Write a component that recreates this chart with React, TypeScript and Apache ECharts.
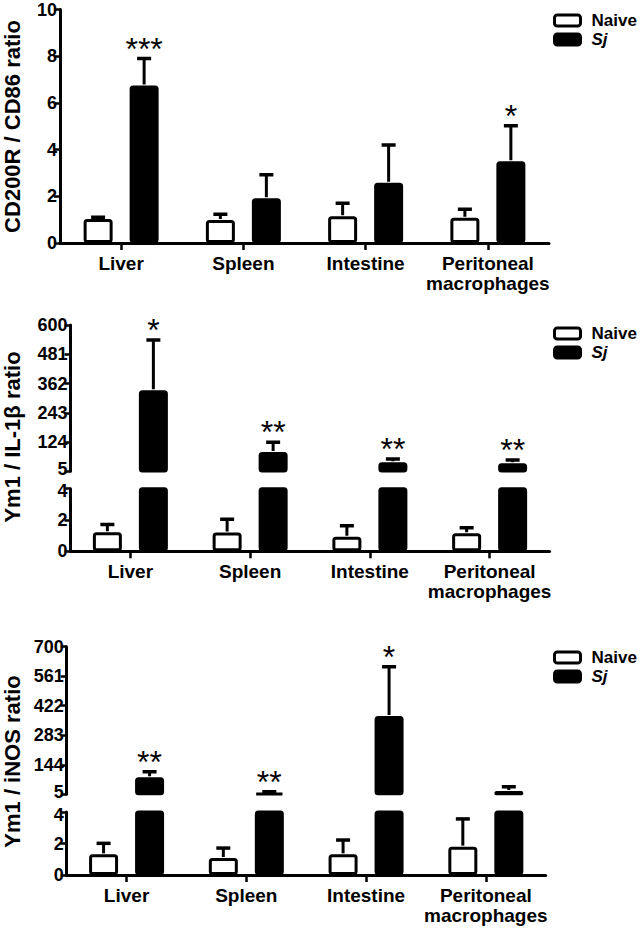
import React, { useEffect, useRef } from "react";
import * as echarts from "echarts";

const FONT = 'Arial, "Liberation Sans", sans-serif';

const categories = ["Liver", "Spleen", "Intestine", "Peritoneal\nmacrophages"];
const seriesNames = ["Naive", "Sj"];

// Panel 1: CD200R / CD86 ratio
const p1Naive = [1.03, 0.98, 1.15, 1.08];
const p1NaiveErr = [0.07, 0.25, 0.55, 0.37];
const p1Sj = [6.75, 1.92, 2.58, 3.5];
const p1SjErr = [1.15, 1.0, 1.62, 1.52];
const p1Stars = ["***", "", "", "*"];
const p1Ticks = { min: 0, max: 10, interval: 2 };

// Panel 2: Ym1 / IL-1β ratio (broken axis)
const p2Naive = [1.21, 1.2, 0.93, 1.15];
const p2NaiveErr = [0.51, 0.84, 0.71, 0.36];
const p2Sj = [335, 83.5, 41.6, 37.5];
const p2SjErr = [204, 39.5, 13.4, 13.5];
const p2Stars = ["*", "**", "**", "**"];
const p2Upper = { min: 5, max: 600, interval: 119 };
const p2Lower = { min: 0, max: 4, interval: 2 };

// Panel 3: Ym1 / iNOS ratio (broken axis)
const p3Naive = [1.31, 1.08, 1.31, 1.8];
const p3NaiveErr = [0.7, 0.63, 0.91, 1.76];
const p3Sj = [85, 12.5, 373.6, 20.5];
const p3SjErr = [26.4, 4.5, 232, 20.3];
const p3Stars = ["**", "**", "*", ""];
const p3Upper = { min: 5, max: 700, interval: 139 };
const p3Lower = { min: 0, max: 4, interval: 2 };

const yTitles = ["CD200R / CD86 ratio", "Ym1 / IL-1\u03b2 ratio", "Ym1 / iNOS ratio"];

// style constants
const BAR_W = 29;
const BAR_GAP = 17;
const OFFSET = (BAR_W + BAR_GAP) / 2;
const STAR_DY = 6;
const TICK_FONT = 18;

const naiveStyle = { color: "#fff", borderColor: "#000", borderWidth: 3, borderRadius: 2 };
const sjStyle = { color: "#000", borderColor: "#000", borderWidth: 3, borderRadius: 2 };

function errRender(params: any, api: any) {
  const cat = api.value(0);
  const v = api.value(1);
  const e = api.value(2);
  const side = api.value(3);
  const base = api.coord([cat, v]);
  const top = api.coord([cat, v + e]);
  const x = base[0] + side * OFFSET;
  return {
    type: "group",
    children: [
      { type: "line", shape: { x1: x, y1: base[1] - 1, x2: x, y2: top[1] }, style: { stroke: "#000", lineWidth: 3 } },
      { type: "line", shape: { x1: x - 7, y1: top[1], x2: x + 7, y2: top[1] }, style: { stroke: "#000", lineWidth: 3.5 } },
    ],
  };
}

function starRender(stars: string[]) {
  return (params: any, api: any) => {
    const cat = api.value(0);
    const p = api.coord([cat, api.value(1)]);
    return {
      type: "text",
      x: p[0] + OFFSET,
      y: p[1] + STAR_DY,
      style: {
        text: stars[cat],
        fontSize: 32,
        fontFamily: FONT,
        fill: "#000",
        align: "center",
        verticalAlign: "bottom",
      },
    };
  };
}

function errData(naive: number[], naiveErr: number[], sj: number[], sjErr: number[], keep: (v: number, e: number) => boolean) {
  const out: number[][] = [];
  naive.forEach((v, i) => {
    if (keep(v, naiveErr[i])) out.push([i, v, naiveErr[i], -1]);
  });
  sj.forEach((v, i) => {
    if (keep(v, sjErr[i])) out.push([i, v, sjErr[i], 1]);
  });
  return out;
}

function starData(sj: number[], sjErr: number[], stars: string[]) {
  const out: number[][] = [];
  stars.forEach((s, i) => {
    if (s) out.push([i, sj[i] + sjErr[i]]);
  });
  return out;
}

function bars(g: number, naive: any[], sj: any[]) {
  return [
    {
      type: "bar", name: seriesNames[0], xAxisIndex: g, yAxisIndex: g, data: naive,
      barWidth: BAR_W, barGap: `${(BAR_GAP / BAR_W) * 100}%`, clip: true,
      itemStyle: naiveStyle, emphasis: { disabled: true }, silent: true,
    },
    {
      type: "bar", name: seriesNames[1], xAxisIndex: g, yAxisIndex: g, data: sj,
      barWidth: BAR_W, barGap: `${(BAR_GAP / BAR_W) * 100}%`, clip: true,
      itemStyle: sjStyle, emphasis: { disabled: true }, silent: true,
    },
  ];
}

function errSeries(g: number, data: number[][]) {
  return {
    type: "custom", xAxisIndex: g, yAxisIndex: g, data, renderItem: errRender,
    encode: { x: 0, y: 1 }, silent: true, clip: true, z: 3,
  };
}

function starSeries(g: number, data: number[][], stars: string[]) {
  return {
    type: "custom", xAxisIndex: g, yAxisIndex: g, data, renderItem: starRender(stars),
    encode: { x: 0, y: 1 }, silent: true, z: 4,
  };
}

const grids = [
  { left: 60, top: 9.5, width: 489, height: 233.5 },
  { left: 70.5, top: 325, width: 479, height: 146.3 },
  { left: 70.5, top: 488.7, width: 479, height: 62.6 },
  { left: 66.7, top: 646.7, width: 479, height: 147.6 },
  { left: 66.7, top: 812, width: 479, height: 63 },
];

function xAxisVisible(g: number) {
  return {
    type: "category", gridIndex: g, data: categories,
    axisLine: { show: true, lineStyle: { color: "#000", width: 3 } },
    axisTick: { show: true, alignWithLabel: true, length: 7, lineStyle: { color: "#000", width: 2.5 } },
    axisLabel: {
      color: "#000", fontSize: 19, fontWeight: "bold", fontFamily: FONT,
      margin: 10, lineHeight: 20, interval: 0,
    },
    splitLine: { show: false },
  };
}

function xAxisHidden(g: number) {
  return { type: "category", gridIndex: g, data: categories, show: false };
}

// breakEdge: 'min' nudges the lowest label of an upper segment up a little,
// 'max' nudges the highest label of a lower segment down, so the two break labels do not collide.
function yAxis(g: number, t: { min: number; max: number; interval: number }, breakEdge?: "min" | "max") {
  const edgeValue = breakEdge === "min" ? t.min : breakEdge === "max" ? t.max : null;
  const richBase = { color: "#000", fontSize: TICK_FONT, fontWeight: "bold", fontFamily: FONT };
  return {
    type: "value", gridIndex: g, min: t.min, max: t.max, interval: t.interval,
    axisLine: { show: true, lineStyle: { color: "#000", width: 3 } },
    axisTick: { show: true, length: 6, lineStyle: { color: "#000", width: 2.5 } },
    axisLabel: {
      color: "#000", fontSize: TICK_FONT, fontWeight: "bold", fontFamily: FONT, margin: 3,
      showMinLabel: true, showMaxLabel: true, hideOverlap: false,
      formatter: (v: number) => {
        if (edgeValue !== null && v === edgeValue) return breakEdge === "min" ? `{up|${v}}` : `{dn|${v}}`;
        return `${v}`;
      },
      rich: {
        up: { ...richBase, padding: [0, 0, 5, 0] },
        dn: { ...richBase, padding: [5, 0, 0, 0] },
      },
    },
    splitLine: { show: false },
  };
}

function legendAt(top: number) {
  return {
    orient: "vertical", left: 548, top, itemWidth: 26, itemHeight: 11, itemGap: 2,
    icon: "roundRect", selectedMode: false,
    textStyle: { color: "#000", fontSize: 17, fontWeight: "bold", fontFamily: FONT, padding: [0, 0, 0, 6] },
    data: [
      { name: "Naive", itemStyle: { color: "#fff", borderColor: "#000", borderWidth: 3 } },
      { name: "Sj", itemStyle: { color: "#000", borderColor: "#000", borderWidth: 3 }, textStyle: { fontStyle: "italic" } },
    ],
  };
}

function titleText(text: string, x: number, y: number) {
  return {
    type: "text", x, y, rotation: Math.PI / 2, silent: true,
    style: { text, fontSize: 22, fontWeight: "bold", fontFamily: FONT, fill: "#000", align: "center", verticalAlign: "middle" },
  };
}

function buildOption() {
  const keepAll = () => true;
  const upperFilter = (min: number) => (arr: number[]) => arr.map((v) => (v >= min ? v : "-"));
  const series: any[] = [];
  // Panel 1
  series.push(...bars(0, p1Naive, p1Sj));
  series.push(errSeries(0, errData(p1Naive, p1NaiveErr, p1Sj, p1SjErr, keepAll)));
  series.push(starSeries(0, starData(p1Sj, p1SjErr, p1Stars), p1Stars));
  // Panel 2
  const f2 = upperFilter(p2Upper.min);
  series.push(...bars(1, f2(p2Naive), f2(p2Sj)));
  series.push(errSeries(1, errData(p2Naive, p2NaiveErr, p2Sj, p2SjErr, (v) => v >= p2Upper.min)));
  series.push(starSeries(1, starData(p2Sj, p2SjErr, p2Stars), p2Stars));
  series.push(...bars(2, p2Naive, p2Sj));
  series.push(errSeries(2, errData(p2Naive, p2NaiveErr, p2Sj, p2SjErr, (v, e) => v + e <= p2Lower.max)));
  // Panel 3
  const f3 = upperFilter(p3Upper.min);
  series.push(...bars(3, f3(p3Naive), f3(p3Sj)));
  series.push(errSeries(3, errData(p3Naive, p3NaiveErr, p3Sj, p3SjErr, (v) => v >= p3Upper.min)));
  series.push(starSeries(3, starData(p3Sj, p3SjErr, p3Stars), p3Stars));
  series.push(...bars(4, p3Naive, p3Sj));
  series.push(errSeries(4, errData(p3Naive, p3NaiveErr, p3Sj, p3SjErr, (v, e) => v + e <= p3Lower.max)));

  return {
    animation: false,
    backgroundColor: "#fff",
    textStyle: { fontFamily: FONT },
    grid: grids.map((g) => ({ ...g, containLabel: false, outerBoundsMode: "none" })),
    xAxis: [xAxisVisible(0), xAxisHidden(1), xAxisVisible(2), xAxisHidden(3), xAxisVisible(4)],
    yAxis: [
      yAxis(0, p1Ticks),
      yAxis(1, p2Upper, "min"),
      yAxis(2, p2Lower, "max"),
      yAxis(3, p3Upper, "min"),
      yAxis(4, p3Lower, "max"),
    ],
    legend: [legendAt(7), legendAt(320), legendAt(644)],
    graphic: [titleText(yTitles[0], 12, 126.5), titleText(yTitles[1], 12, 437), titleText(yTitles[2], 12, 761.5)],
    series,
  };
}

export default function App() {
  const ref = useRef<HTMLDivElement>(null);
  useEffect(() => {
    document.body.style.margin = "0";
    if (!ref.current) return;
    const chart = echarts.init(ref.current, undefined, { renderer: "svg" });
    chart.setOption(buildOption() as any);
    return () => chart.dispose();
  }, []);
  return <div ref={ref} style={{ width: 641, height: 929 }} />;
}
